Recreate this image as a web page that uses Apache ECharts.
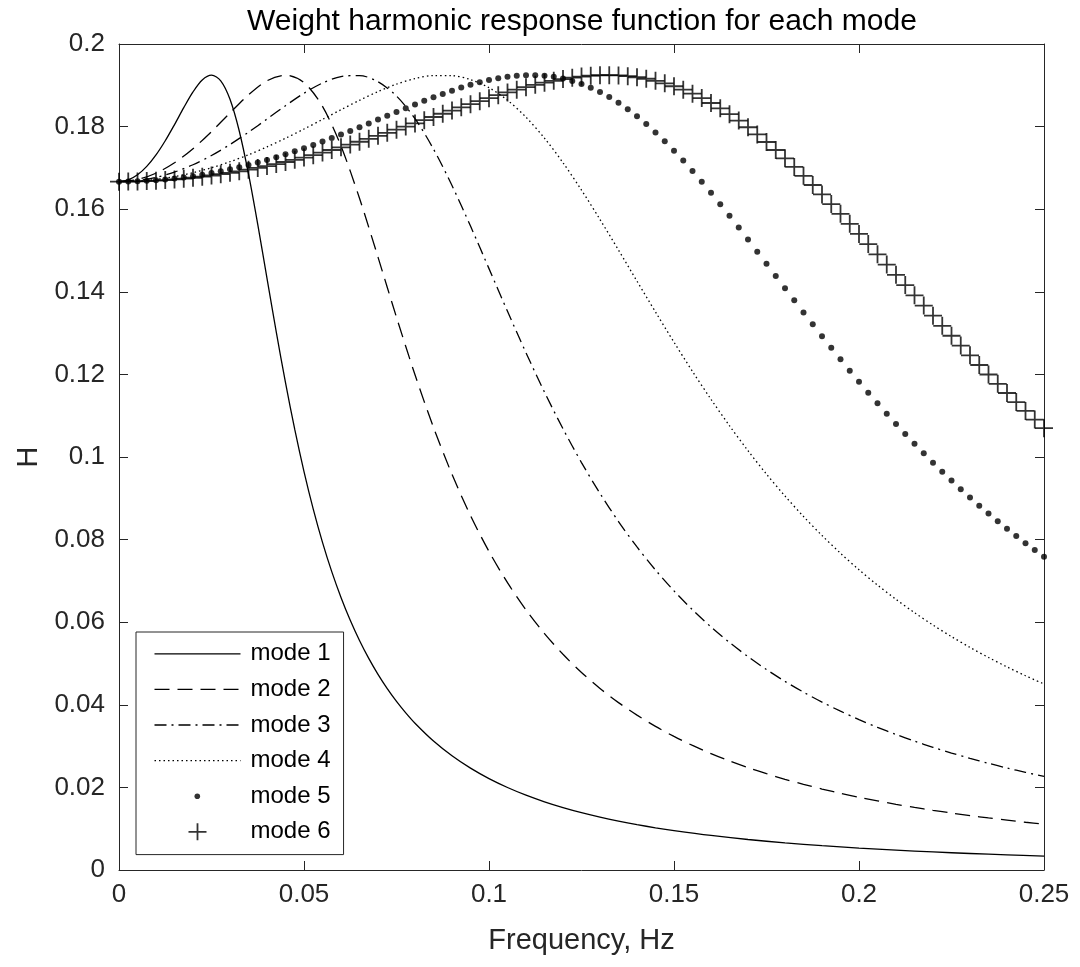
<!DOCTYPE html>
<html>
<head>
<meta charset="utf-8">
<script src="https://cdn.jsdelivr.net/npm/echarts@6/dist/echarts.min.js"></script>
<style>
html,body{margin:0;padding:0;background:#fff;}
#chart{width:1080px;height:967px;}
</style>
</head>
<body>
<div id="chart"></div>
<script>
// ---- data ----
var xTicks = [0, 0.05, 0.1, 0.15, 0.2, 0.25];
var yTicks = [0, 0.02, 0.04, 0.06, 0.08, 0.1, 0.12, 0.14, 0.16, 0.18, 0.2];
var seriesNames = ['mode 1', 'mode 2', 'mode 3', 'mode 4', 'mode 5', 'mode 6'];

var freqMode1 = [0, 0.0025, 0.005, 0.0075, 0.01, 0.0125, 0.015, 0.0175, 0.02, 0.0225, 0.025, 0.0275, 0.03, 0.0325, 0.035, 0.0375, 0.04, 0.0425, 0.045, 0.0475, 0.05, 0.0525, 0.055, 0.0575, 0.06, 0.0625, 0.065, 0.0675, 0.07, 0.0725, 0.075, 0.0775, 0.08,
  0.085, 0.09, 0.095, 0.1, 0.105, 0.11, 0.115, 0.12, 0.125, 0.13, 0.135, 0.14, 0.145, 0.15,
  0.16, 0.17, 0.18, 0.19, 0.2, 0.21, 0.22, 0.23, 0.24, 0.25];
var mode1 = [0.16667, 0.16708, 0.16832, 0.17036, 0.17315, 0.17658, 0.18049, 0.18458, 0.18839, 0.19128, 0.19245, 0.19109, 0.18662, 0.17894, 0.16853, 0.15630, 0.14327, 0.13030, 0.11799, 0.10667, 0.09647, 0.08738, 0.07934, 0.07224, 0.06599, 0.06046, 0.05557, 0.05123, 0.04737, 0.04392, 0.04083, 0.03806, 0.03555,
  0.03123, 0.02766, 0.02466, 0.02213, 0.01998, 0.01812, 0.01652, 0.01512, 0.01389, 0.01281, 0.01185, 0.01099, 0.01022, 0.00954,
  0.00836, 0.00738, 0.00657, 0.00589, 0.00530, 0.00480, 0.00437, 0.00399, 0.00367, 0.00338];

var freqCoarse = [0, 0.005, 0.01, 0.015, 0.02, 0.025, 0.03, 0.035, 0.04, 0.045, 0.05, 0.055, 0.06, 0.065, 0.07, 0.075, 0.08, 0.085, 0.09, 0.095, 0.1, 0.105, 0.11, 0.115, 0.12, 0.125, 0.13, 0.135, 0.14, 0.145, 0.15, 0.155, 0.16, 0.165, 0.17, 0.175, 0.18, 0.185, 0.19, 0.195, 0.2, 0.205, 0.21, 0.215, 0.22, 0.225, 0.23, 0.235, 0.24, 0.245, 0.25];
var mode2 = [0.16667, 0.16718, 0.16872, 0.17124, 0.17465, 0.17879, 0.18331, 0.18769, 0.19110, 0.19245, 0.19063, 0.18489, 0.17527, 0.16264, 0.14839, 0.13383, 0.11991, 0.10717, 0.09580, 0.08582, 0.07712, 0.06956, 0.06298, 0.05724, 0.05223, 0.04783, 0.04396, 0.04053, 0.03749, 0.03477, 0.03234, 0.03016, 0.02819, 0.02641, 0.02479, 0.02332, 0.02197, 0.02074, 0.01961, 0.01858, 0.01762, 0.01673, 0.01591, 0.01515, 0.01445, 0.01379, 0.01318, 0.01260, 0.01207, 0.01156, 0.01109];
var mode3 = [0.16667, 0.16693, 0.16770, 0.16899, 0.17077, 0.17300, 0.17566, 0.17864, 0.18183, 0.18506, 0.18808, 0.19056, 0.19212, 0.19236, 0.19087, 0.18741, 0.18192, 0.17456, 0.16573, 0.15591, 0.14561, 0.13527, 0.12523, 0.11571, 0.10683, 0.09865, 0.09118, 0.08438, 0.07822, 0.07264, 0.06759, 0.06301, 0.05886, 0.05509, 0.05166, 0.04853, 0.04567, 0.04306, 0.04066, 0.03845, 0.03642, 0.03454, 0.03281, 0.03120, 0.02971, 0.02832, 0.02703, 0.02583, 0.02470, 0.02365, 0.02266];
var mode4 = [0.16667, 0.16680, 0.16721, 0.16789, 0.16884, 0.17004, 0.17150, 0.17318, 0.17509, 0.17718, 0.17941, 0.18174, 0.18409, 0.18637, 0.18848, 0.19028, 0.19163, 0.19236, 0.19233, 0.19138, 0.18942, 0.18638, 0.18228, 0.17719, 0.17125, 0.16462, 0.15751, 0.15010, 0.14258, 0.13511, 0.12779, 0.12072, 0.11397, 0.10756, 0.10152, 0.09585, 0.09055, 0.08560, 0.08099, 0.07670, 0.07270, 0.06899, 0.06553, 0.06231, 0.05931, 0.05651, 0.05390, 0.05146, 0.04918, 0.04704, 0.04504];

var freqFine = [0, 0.0025, 0.005, 0.0075, 0.01, 0.0125, 0.015, 0.0175, 0.02, 0.0225,
  0.025, 0.0275, 0.03, 0.0325, 0.035, 0.0375, 0.04, 0.0425, 0.045, 0.0475,
  0.05, 0.0525, 0.055, 0.0575, 0.06, 0.0625, 0.065, 0.0675, 0.07, 0.0725,
  0.075, 0.0775, 0.08, 0.0825, 0.085, 0.0875, 0.09, 0.0925, 0.095, 0.0975,
  0.1, 0.1025, 0.105, 0.1075, 0.11, 0.1125, 0.115, 0.1175, 0.12, 0.1225,
  0.125, 0.1275, 0.13, 0.1325, 0.135, 0.1375, 0.14, 0.1425, 0.145, 0.1475,
  0.15, 0.1525, 0.155, 0.1575, 0.16, 0.1625, 0.165, 0.1675, 0.17, 0.1725,
  0.175, 0.1775, 0.18, 0.1825, 0.185, 0.1875, 0.19, 0.1925, 0.195, 0.1975,
  0.2, 0.2025, 0.205, 0.2075, 0.21, 0.2125, 0.215, 0.2175, 0.22, 0.2225,
  0.225, 0.2275, 0.23, 0.2325, 0.235, 0.2375, 0.24, 0.2425, 0.245, 0.2475,
  0.25];
var mode5 = [0.16667, 0.16669, 0.16675, 0.16686, 0.16700, 0.16719, 0.16742, 0.16769, 0.16800, 0.16836,
  0.16875, 0.16919, 0.16966, 0.17017, 0.17072, 0.17131, 0.17193, 0.17259, 0.17329, 0.17402,
  0.17477, 0.17556, 0.17638, 0.17722, 0.17808, 0.17896, 0.17986, 0.18077, 0.18169, 0.18261,
  0.18353, 0.18445, 0.18535, 0.18623, 0.18709, 0.18792, 0.18870, 0.18944, 0.19011, 0.19072,
  0.19126, 0.19170, 0.19206, 0.19230, 0.19243, 0.19244, 0.19231, 0.19204, 0.19162, 0.19105,
  0.19032, 0.18943, 0.18837, 0.18714, 0.18575, 0.18420, 0.18248, 0.18062, 0.17860, 0.17645,
  0.17417, 0.17177, 0.16927, 0.16667, 0.16398, 0.16122, 0.15841, 0.15554, 0.15264, 0.14971,
  0.14677, 0.14382, 0.14087, 0.13793, 0.13501, 0.13212, 0.12926, 0.12643, 0.12365, 0.12091,
  0.11822, 0.11558, 0.11299, 0.11045, 0.10797, 0.10555, 0.10319, 0.10088, 0.09863, 0.09643,
  0.09430, 0.09221, 0.09019, 0.08822, 0.08630, 0.08443, 0.08262, 0.08085, 0.07914, 0.07747,
  0.07585];
var mode6 = [0.16667, 0.16668, 0.16673, 0.16680, 0.16691, 0.16704, 0.16720, 0.16740, 0.16762, 0.16787,
  0.16816, 0.16847, 0.16881, 0.16917, 0.16957, 0.16999, 0.17044, 0.17092, 0.17143, 0.17196,
  0.17251, 0.17309, 0.17370, 0.17433, 0.17497, 0.17564, 0.17633, 0.17704, 0.17776, 0.17850,
  0.17925, 0.18001, 0.18078, 0.18155, 0.18233, 0.18311, 0.18389, 0.18466, 0.18542, 0.18616,
  0.18689, 0.18760, 0.18828, 0.18893, 0.18954, 0.19011, 0.19063, 0.19109, 0.19150, 0.19185,
  0.19212, 0.19232, 0.19243, 0.19245, 0.19238, 0.19222, 0.19195, 0.19158, 0.19108, 0.19048,
  0.18977, 0.18893, 0.18798, 0.18691, 0.18572, 0.18442, 0.18300, 0.18147, 0.17984, 0.17810,
  0.17627, 0.17434, 0.17233, 0.17024, 0.16808, 0.16586, 0.16358, 0.16124, 0.15887, 0.15646,
  0.15402, 0.15156, 0.14908, 0.14660, 0.14411, 0.14162, 0.13914, 0.13666, 0.13421, 0.13177,
  0.12936, 0.12697, 0.12461, 0.12228, 0.11998, 0.11772, 0.11550, 0.11331, 0.11116, 0.10905,
  0.10698];

// ---- build chart ----
function pairs(xs, ys) { return xs.map(function (x, i) { return [x, ys[i]]; }); }

var FONT = '"Liberation Sans", Arial, Helvetica, sans-serif';
var AX = '#262626';
var dashes = {
  'mode 1': 'solid',
  'mode 2': [15, 8],
  'mode 3': [12, 5, 2, 5],
  'mode 4': [1.5, 3]
};
var lineData = { 'mode 1': pairs(freqMode1, mode1), 'mode 2': pairs(freqCoarse, mode2), 'mode 3': pairs(freqCoarse, mode3), 'mode 4': pairs(freqCoarse, mode4) };

var series = [];
['mode 1', 'mode 2', 'mode 3', 'mode 4'].forEach(function (n) {
  series.push({
    name: n, type: 'line', data: lineData[n], symbol: 'none', smooth: 0.3,
    lineStyle: { color: '#000', width: 1.3, type: dashes[n] },
    itemStyle: { color: '#000' },
    animation: false, silent: true, z: 3
  });
});
series.push({
  name: 'mode 5', type: 'scatter', data: pairs(freqFine, mode5), symbol: 'circle', symbolSize: 6,
  itemStyle: { color: '#000' }, animation: false, silent: true, z: 4
});
series.push({
  name: 'mode 6', type: 'scatter', data: pairs(freqFine, mode6),
  symbol: 'path://M-1,0L1,0M0,-1L0,1', symbolSize: 18,
  itemStyle: { color: 'transparent', borderColor: '#000', borderWidth: 1.8 },
  animation: false, silent: true, z: 5
});

var IW = 91, IH = 18;
var legendIcons = {
  'mode 1': 'path://M0,0M91,18M0,9L86,9',
  'mode 2': 'path://M0,0M91,18M0,9L86,9',
  'mode 3': 'path://M0,0M91,18M0,9L86,9',
  'mode 4': 'path://M0,0M91,18M0,9L86,9',
  'mode 5': 'path://M0,0M91,18M45.6,9A2.8,2.8,0,1,1,40,9A2.8,2.8,0,1,1,45.6,9Z',
  'mode 6': 'path://M0,0M91,18M34,9L52,9M43,0.5L43,17.5'
};
var legendData = seriesNames.map(function (n) {
  var st;
  if (n === 'mode 5') st = { color: '#000', borderWidth: 0 };
  else if (n === 'mode 6') st = { color: 'none', borderColor: '#000', borderWidth: 1.8 };
  else st = { color: 'none', borderColor: '#000', borderWidth: 1.3, borderType: dashes[n] };
  return { name: n, icon: legendIcons[n], itemStyle: st };
});

var axisCommon = {
  type: 'value',
  axisLine: { show: true, onZero: false, lineStyle: { color: AX, width: 1 } },
  axisTick: { show: true, inside: true, length: 9, lineStyle: { color: AX, width: 1 } },
  splitLine: { show: false }
};

var option = {
  backgroundColor: '#fff',
  animation: false,
  title: {
    text: 'Weight harmonic response function for each mode',
    left: 577, top: 2, textAlign: 'center',
    textStyle: { fontFamily: FONT, fontSize: 30, fontWeight: 'normal', color: '#000' }
  },
  grid: { left: 119, right: 36, top: 44, bottom: 97, containLabel: false },
  legend: {
    orient: 'vertical', left: 136, top: 632,
    padding: [8, 13, 9, 16],
    itemWidth: IW, itemHeight: IH, itemGap: 8,
    borderColor: AX, borderWidth: 1, backgroundColor: '#fff',
    selectedMode: false,
    textStyle: { fontFamily: FONT, fontSize: 24, color: '#000', lineHeight: 27.6 },
    data: legendData, z: 10
  },
  xAxis: [
    Object.assign({}, axisCommon, {
      min: xTicks[0], max: xTicks[xTicks.length - 1], interval: xTicks[1] - xTicks[0], position: 'bottom',
      axisLabel: { show: true, margin: 12, fontFamily: FONT, fontSize: 26, color: AX },
      name: 'Frequency, Hz', nameLocation: 'middle', nameGap: 56,
      nameTextStyle: { fontFamily: FONT, fontSize: 29, color: AX }
    }),
    Object.assign({}, axisCommon, {
      min: xTicks[0], max: xTicks[xTicks.length - 1], interval: xTicks[1] - xTicks[0], position: 'top',
      axisLabel: { show: false }
    })
  ],
  yAxis: [
    Object.assign({}, axisCommon, {
      min: yTicks[0], max: yTicks[yTicks.length - 1], interval: yTicks[1] - yTicks[0], position: 'left',
      axisLabel: { show: true, margin: 14, fontFamily: FONT, fontSize: 26, color: AX },
      name: 'H', nameLocation: 'middle', nameGap: 74,
      nameTextStyle: { fontFamily: FONT, fontSize: 29, color: AX }
    }),
    Object.assign({}, axisCommon, {
      min: yTicks[0], max: yTicks[yTicks.length - 1], interval: yTicks[1] - yTicks[0], position: 'right',
      axisLabel: { show: false }
    })
  ],
  series: series
};

var chart = echarts.init(document.getElementById('chart'), null, { renderer: 'canvas' });
chart.setOption(option);
</script>
</body>
</html>
